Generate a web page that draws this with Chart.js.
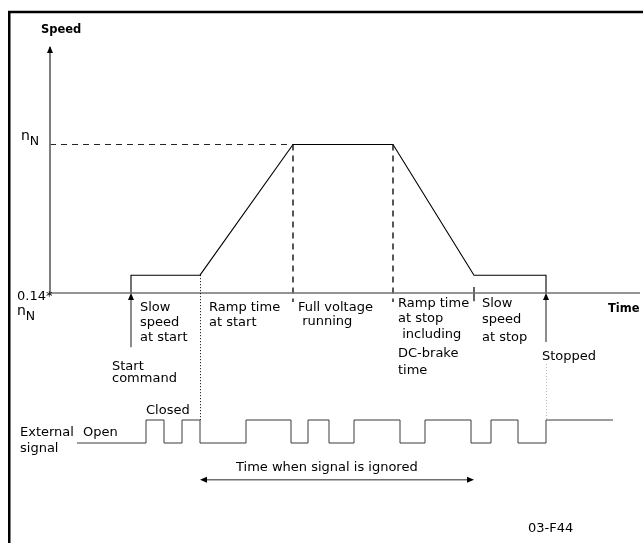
<!DOCTYPE html>
<html>
<head>
<meta charset="utf-8">
<script src="https://cdn.jsdelivr.net/npm/chart.js@4/dist/chart.umd.min.js"></script>
<style>
  html, body { margin: 0; padding: 0; background: #fff; }
  #wrap { width: 643px; height: 543px; position: relative; }
  canvas { display: block; }
</style>
</head>
<body>
<div id="wrap"><canvas id="c" width="643" height="543"></canvas></div>
<script>
// ---------- data ----------
// speed profile (time units, speed as fraction of rated speed nN)
const profileTimes  = [131, 131, 200, 293, 393, 474, 546, 546];
const profileSpeeds = [0, 0.12, 0.12, 1, 1, 0.12, 0.12, 0];
const ratedSpeed = 1;
const slowSpeed = 0.12;
// phase boundaries: start command, ramp start, full speed, ramp stop start, slow stop, stopped
const phaseTimes = [131, 200, 293, 393, 474, 546];
// external signal: edge times and the state after each edge (1 = closed)
const signalTimes  = [77, 146, 164, 182, 200, 246, 291, 308, 329, 354, 400, 425, 471, 491, 518, 546, 613];
const signalStates = [0, 1, 0, 1, 0, 1, 0, 1, 0, 1, 0, 1, 0, 1, 0, 1, 1];
// axes extents
const timeAxisRange = [50, 640];
const speedAxisTop = 1.657;
// ignored-signal window
const ignoredWindow = [200, 474];
const ignoredLevel = -1.6;
// text
const axisTitles = ["Speed", "Time"];
const yTickLabels = ["nN", "0.14*nN"];
const phaseLabels = [
  ["Slow", "speed", "at start"],
  ["Ramp time", "at start"],
  ["Full voltage", " running"],
  ["Ramp time", "at stop", " including", "DC-brake", "time"],
  ["Slow", "speed", "at stop"]
];
const eventLabels = [["Start", "command"], ["Stopped"]];
const signalLabels = [["External", "signal"], ["Open"], ["Closed"]];
const ignoredLabel = "Time when signal is ignored";
const figureCode = "03-F44";

// ---------- layout (positions for text, pixels) ----------
const FONT = "'DejaVu Sans', sans-serif";
const textLayout = {
  phase: [
    { x: 140, ys: [311, 326, 341] },
    { x: 209, ys: [311, 326] },
    { x: 298, ys: [311, 325] },
    { x: 398, ys: [307, 322, 338, 357, 374] },
    { x: 482, ys: [307, 323, 341] }
  ],
  event: [ { x: 112, ys: [370, 382] }, { x: 542, ys: [360] } ],
  signal: [ { x: 20, ys: [436, 452] }, { x: 83, ys: [436] }, { x: 146, ys: [414] } ]
};

function line(data, color, width, dash, yAxis) {
  return {
    data: data, showLine: true, pointRadius: 0, borderColor: color, borderWidth: width,
    borderDash: dash || [], fill: false, tension: 0, yAxisID: yAxis || 'y', parsing: false
  };
}

const profileData = profileTimes.map((t, i) => ({ x: t, y: profileSpeeds[i] }));
const signalData = signalTimes.map((t, i) => ({ x: t, y: signalStates[i] }));
const signalDs = line(signalData, '#3a3a3a', 1, null, 'ys');
signalDs.stepped = 'before';

const datasets = [
  // axes
  line([{ x: timeAxisRange[0], y: 0 }, { x: timeAxisRange[1], y: 0 }], '#707070', 1.6),
  line([{ x: timeAxisRange[0], y: 0 }, { x: timeAxisRange[0], y: speedAxisTop }], '#707070', 1.8),
  // rated speed reference
  line([{ x: timeAxisRange[0], y: ratedSpeed }, { x: phaseTimes[2], y: ratedSpeed }], '#222', 1, [6, 5]),
  line([{ x: phaseTimes[2], y: ratedSpeed }, { x: phaseTimes[2], y: -0.06 }], '#111', 1.4, [6, 5]),
  line([{ x: phaseTimes[3], y: ratedSpeed }, { x: phaseTimes[3], y: -0.06 }], '#111', 1.4, [6, 5]),
  // tick at slow-stop start
  line([{ x: phaseTimes[4], y: 0.04 }, { x: phaseTimes[4], y: -0.055 }], '#000', 1.2),
  // start / stop arrows shafts
  line([{ x: phaseTimes[0], y: -0.365 }, { x: phaseTimes[0], y: -0.02 }], '#707070', 1.6),
  line([{ x: phaseTimes[5], y: -0.33 }, { x: phaseTimes[5], y: -0.02 }], '#707070', 1.6),
  // profile
  line(profileData, '#000', 1.1),
  // signal
  signalDs,
  // ignored window arrow shaft
  line([{ x: ignoredWindow[0] + 4, y: ignoredLevel }, { x: ignoredWindow[1] - 4, y: ignoredLevel }], '#707070', 1.6, null, 'ys')
];

const decor = {
  id: 'decor',
  afterDatasetsDraw(chart) {
    const ctx = chart.ctx, x = chart.scales.x, y = chart.scales.y, ys = chart.scales.ys;
    ctx.save();
    // frame
    ctx.strokeStyle = '#000'; ctx.lineWidth = 2.5;
    ctx.beginPath(); ctx.moveTo(8, 12); ctx.lineTo(643, 12); ctx.stroke();
    ctx.beginPath(); ctx.moveTo(9.25, 11); ctx.lineTo(9.25, 543); ctx.stroke();

    // arrow heads
    function head(px, py, dir) {
      ctx.fillStyle = '#000';
      ctx.beginPath();
      if (dir === 'up') { ctx.moveTo(px, py); ctx.lineTo(px - 3, py + 7); ctx.lineTo(px + 3, py + 7); }
      if (dir === 'left') { ctx.moveTo(px, py); ctx.lineTo(px + 7, py - 3); ctx.lineTo(px + 7, py + 3); }
      if (dir === 'right') { ctx.moveTo(px, py); ctx.lineTo(px - 7, py - 3); ctx.lineTo(px - 7, py + 3); }
      ctx.closePath(); ctx.fill();
    }
    head(x.getPixelForValue(timeAxisRange[0]), y.getPixelForValue(speedAxisTop) - 1, 'up');
    head(x.getPixelForValue(phaseTimes[0]), y.getPixelForValue(0), 'up');
    head(x.getPixelForValue(phaseTimes[5]), y.getPixelForValue(0), 'up');
    head(x.getPixelForValue(ignoredWindow[0]), ys.getPixelForValue(ignoredLevel), 'left');
    head(x.getPixelForValue(ignoredWindow[1]), ys.getPixelForValue(ignoredLevel), 'right');

    // dotted links from profile to signal
    ctx.lineWidth = 1; ctx.setLineDash([1, 2]);
    ctx.strokeStyle = '#000';
    let px = Math.round(x.getPixelForValue(phaseTimes[1])) + 0.5;
    ctx.beginPath(); ctx.moveTo(px, y.getPixelForValue(slowSpeed)); ctx.lineTo(px, ys.getPixelForValue(1)); ctx.stroke();
    ctx.strokeStyle = '#bbb';
    px = Math.round(x.getPixelForValue(phaseTimes[5])) + 0.5;
    ctx.beginPath(); ctx.moveTo(px, 364); ctx.lineTo(px, ys.getPixelForValue(1)); ctx.stroke();
    ctx.setLineDash([]);

    // text
    ctx.fillStyle = '#000'; ctx.textBaseline = 'alphabetic'; ctx.textAlign = 'left';
    ctx.font = 'bold 11.5px ' + FONT;
    ctx.fillText(axisTitles[0], 41, 33);
    ctx.fillText(axisTitles[1], 608, 312);

    function sub(main, s, px, py) {
      ctx.font = '14px ' + FONT;
      ctx.fillText(main, px, py);
      const w = ctx.measureText(main).width;
      ctx.font = '12.5px ' + FONT;
      ctx.fillText(s, px + w, py + 4.5);
    }
    // tick labels
    sub(yTickLabels[0].slice(0, 1), yTickLabels[0].slice(1), 21, y.getPixelForValue(ratedSpeed) - 4);
    ctx.font = '13px ' + FONT;
    ctx.fillText(yTickLabels[1].slice(0, 5), 17, 300);
    sub(yTickLabels[1].slice(5, 6), yTickLabels[1].slice(6), 17, 315);

    ctx.font = '13px ' + FONT;
    phaseLabels.forEach((lines, i) => {
      const L = textLayout.phase[i];
      lines.forEach((t, j) => ctx.fillText(t, L.x, L.ys[j]));
    });
    eventLabels.forEach((lines, i) => {
      const L = textLayout.event[i];
      lines.forEach((t, j) => ctx.fillText(t, L.x, L.ys[j]));
    });
    signalLabels.forEach((lines, i) => {
      const L = textLayout.signal[i];
      lines.forEach((t, j) => ctx.fillText(t, L.x, L.ys[j]));
    });
    ctx.fillText(ignoredLabel, 236, 471);
    ctx.fillText(figureCode, 528, 532);
    ctx.restore();
  }
};

new Chart(document.getElementById('c'), {
  type: 'scatter',
  data: { datasets: datasets },
  options: {
    responsive: false,
    animation: false,
    layout: { padding: 0 },
    plugins: { legend: { display: false }, tooltip: { enabled: false }, title: { display: false } },
    scales: {
      x: { type: 'linear', min: 0, max: 643, display: false },
      y: { type: 'linear', min: 1.97306 - 543 / 148.5, max: 1.97306, display: false },
      ys: { type: 'linear', min: 443 / 23 - 543 / 23, max: 443 / 23, display: false }
    }
  },
  plugins: [decor]
});
</script>
</body>
</html>
